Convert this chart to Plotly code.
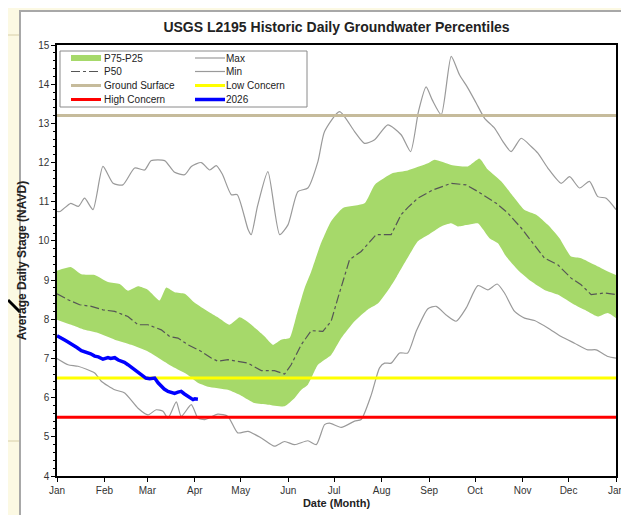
import plotly.graph_objects as go

# ---------------- data (day of year, stage) ----------------
month_ticks = [0, 31, 59, 90, 120, 151, 181, 212, 243, 273, 304, 334, 365]
month_labels = ["Jan", "Feb", "Mar", "Apr", "May", "Jun", "Jul", "Aug", "Sep", "Oct", "Nov", "Dec", "Jan"]

max_days = [0, 2, 9, 14, 18, 23.5, 30, 36.6, 43, 50.7, 57.2, 61.6, 70.3, 76.8, 83.4, 87.7, 94.2, 99.7, 104,
            108, 113.8, 117.7, 124.7, 126.8, 131, 137.7, 145.4, 150.8, 157.3, 163.8, 170.4, 174.7, 184.5,
            194.3, 200.8, 207.4, 216, 224.7, 230.9, 236, 241, 245, 250.9, 257.4, 262.8, 268.3, 273.7, 279.2,
            285.7, 291.1, 296.5, 303.1, 309.6, 314, 320.5, 329.2, 334.7, 341.2, 347.7, 353.1, 358.6, 365]
max_vals = [10.75, 10.75, 10.96, 10.88, 11.09, 10.8, 11.9, 11.47, 11.43, 11.86, 11.81, 12.05, 12.05, 11.75,
            11.69, 11.9, 12.0, 11.81, 11.92, 11.7, 11.18, 11.18, 10.3, 10.16, 10.9, 11.77, 10.16, 10.41,
            11.26, 11.35, 12.03, 12.79, 13.3, 12.79, 12.49, 12.58, 12.96, 12.71, 12.28, 13.3, 13.93, 13.6,
            13.22, 14.71, 14.24, 13.9, 13.52, 13.13, 12.88, 12.54, 12.28, 12.62, 12.41, 12.24, 11.86, 11.47,
            11.64, 11.35, 11.52, 11.13, 11.09, 10.8]

min_days = [0, 7.2, 13.7, 24.6, 28.9, 37.7, 44.2, 52.9, 59.4, 64.8, 69.2, 72.5, 77.9, 81.1, 87.7, 92, 96.4,
            105, 111.6, 118, 124.7, 133.4, 142, 148.6, 155.2, 163.8, 169.3, 174.7, 178, 185.6, 194.3, 198.6,
            205.2, 210.6, 213.9, 218.2, 223.7, 229, 234.5, 242.2, 247.6, 254.1, 260.6, 267.2, 274.8, 281.3,
            287.4, 292.2, 298.8, 305.3, 311.8, 320.5, 329.2, 337.9, 346.6, 352, 359.7, 365]
min_vals = [7.0, 6.84, 6.8, 6.63, 6.42, 6.2, 6.12, 5.73, 5.56, 5.69, 5.65, 5.48, 5.89, 5.52, 5.82, 5.48, 5.44,
            5.58, 5.52, 5.1, 5.14, 4.97, 4.76, 4.88, 4.8, 4.9, 4.8, 5.31, 5.35, 5.24, 5.4, 5.44,
            6.07, 6.76, 6.88, 6.88, 7.14, 7.14, 7.69, 8.27, 8.33, 8.11, 7.95, 8.29, 8.86, 8.75,
            8.9, 8.67, 8.2, 8.03, 7.97, 7.78, 7.56, 7.39, 7.22, 7.22, 7.05, 7.01]

p50_days = [0, 7.2, 14.8, 22.4, 30, 37.7, 46.3, 52.9, 59.4, 68.1, 73.6, 79, 85.5, 94.2, 100.7, 105, 111.6, 118,
            124.7, 133.4, 142, 148.6, 152.9, 159.5, 166, 173.6, 179, 183.4, 186.7, 191, 198.6, 208.4, 218.2,
            224.7, 229, 235.6, 245.4, 257.4, 267.2, 274.8, 286.8, 294.4, 303.1, 311.8, 318.3, 327, 335.7,
            342.2, 348.8, 357.5, 365]
p50_vals = [8.65, 8.5, 8.37, 8.33, 8.24, 8.2, 8.07, 7.86, 7.86, 7.73, 7.56, 7.52, 7.35, 7.18, 7.01, 6.93, 6.97,
            6.92, 6.88, 6.69, 6.69, 6.6, 6.84, 7.35, 7.71, 7.69, 7.95, 8.54, 8.95, 9.52, 9.73, 10.16, 10.16,
            10.67, 10.85, 11.09, 11.3, 11.47, 11.43, 11.26, 10.96, 10.71, 10.33, 9.9, 9.56, 9.39, 9.05,
            8.88, 8.63, 8.67, 8.63]

p75_days = [0, 9.3, 15.9, 24.6, 33.3, 40.9, 46.3, 52.9, 59.4, 67, 71.3, 76.8, 83.4, 89.9, 98.6, 105, 112.7,
            119.3, 124.7, 135.6, 141, 146.4, 151.9, 156.2, 161.7, 166, 172, 179, 186.7, 200.8, 207.4, 219.3,
            229, 242.2, 246.5, 257.4, 268.3, 275.9, 281.3, 290, 298.8, 305.3, 312.9, 320.5, 328.1, 335.7,
            342.2, 351, 359.7, 365]
p75_vals = [9.24, 9.33, 9.15, 9.13, 8.95, 8.9, 8.73, 8.84, 8.75, 8.48, 8.81, 8.69, 8.65, 8.42, 8.2, 8.05, 7.86,
            8.05, 7.93, 7.56, 7.35, 7.48, 7.52, 8.07, 8.8, 9.22, 9.9, 10.5, 10.84, 10.96, 11.43, 11.73,
            11.8, 11.98, 12.07, 11.94, 11.9, 12.1, 11.82, 11.52, 11.09, 10.79, 10.67, 10.41, 10.07, 9.6,
            9.56, 9.39, 9.22, 9.13]

p25_days = [0, 9.3, 18, 26.8, 37.7, 48.5, 59.4, 68.1, 76.8, 85.5, 92, 98.6, 111.6, 120.3, 129, 137.7, 148.6,
            155.2, 159.5, 163.8, 170.4, 179, 185.6, 194.3, 203, 209.5, 217.2, 222, 230.2, 235.6, 242.2,
            250.9, 257.4, 261.7, 268.3, 274.8, 282.4, 287.9, 293.3, 300.9, 309.6, 318.3, 327, 337.9, 346.6,
            353.1, 359.7, 365]
p25_vals = [7.99, 7.86, 7.73, 7.65, 7.48, 7.35, 7.18, 6.97, 6.76, 6.58, 6.38, 6.28, 6.2, 6.05, 5.86, 5.82, 5.78,
            5.99, 6.2, 6.33, 6.84, 7.09, 7.52, 7.95, 8.25, 8.4, 8.8, 9.1, 9.65, 9.99, 10.15,
            10.37, 10.45, 10.37, 10.41, 10.45, 10.07, 9.94, 9.6, 9.26, 8.97, 8.75, 8.63, 8.37, 8.2,
            8.07, 8.16, 8.03]

y2026_days = [0, 3, 5, 7.2, 9, 11.5, 13, 15.9, 18, 20.2, 22, 24.6, 27, 30, 33.3, 35, 37.7, 40, 42, 44, 46.3,
              49, 51.8, 54, 56.1, 58, 60.5, 63.8, 66, 68.1, 70, 72.5, 74.5, 76.8, 79, 81.1, 83, 85.5, 88.8,
              90, 92]
y2026_vals = [7.58, 7.5, 7.47, 7.42, 7.38, 7.31, 7.28, 7.2, 7.18, 7.14, 7.12, 7.06, 7.04, 6.98, 7.02, 7.0,
              7.02, 6.96, 6.93, 6.9, 6.84, 6.76, 6.67, 6.6, 6.54, 6.5, 6.48, 6.5, 6.38, 6.29, 6.22, 6.16,
              6.14, 6.11, 6.14, 6.16, 6.1, 6.03, 5.95, 5.97, 5.96]

ground_surface = 13.2
low_concern = 6.5
high_concern = 5.5
year_span = [0, 365]

# legend entries laid out in two columns of four
legend_col1 = ["P75-P25", "P50", "Ground Surface", "High Concern"]
legend_col2 = ["Max", "Min", "Low Concern", "2026"]

# ---------------- styles ----------------
FONT = "Liberation Sans, Arial, sans-serif"
STYLE = {
    "P75-P25": dict(color="#a6d96a", width=6, dash="solid"),
    "P50": dict(color="#555555", width=1.2, dash="dashdot"),
    "Max": dict(color="#9a9a9a", width=1.2, dash="solid"),
    "Min": dict(color="#9a9a9a", width=1.2, dash="solid"),
    "Ground Surface": dict(color="#c6bb9b", width=3, dash="solid"),
    "Low Concern": dict(color="#ffff00", width=3, dash="solid"),
    "High Concern": dict(color="#ff0000", width=3, dash="solid"),
    "2026": dict(color="#0000ff", width=3.5, dash="solid"),
}

fig = go.Figure()

# band
fig.add_trace(go.Scatter(x=p25_days, y=p25_vals, mode="lines",
                         line=dict(width=0, color="#a6d96a", shape="spline", smoothing=0.5),
                         showlegend=False, hoverinfo="skip"))
fig.add_trace(go.Scatter(x=p75_days, y=p75_vals, mode="lines", fill="tonexty", fillcolor="#a6d96a",
                         line=dict(width=0, color="#a6d96a", shape="spline", smoothing=0.5),
                         name="P75-P25", showlegend=False))
fig.add_trace(go.Scatter(x=p50_days, y=p50_vals, mode="lines", name="P50", showlegend=False,
                         line=dict(color=STYLE["P50"]["color"], width=1.2, dash="dashdot")))
fig.add_trace(go.Scatter(x=max_days, y=max_vals, mode="lines", name="Max", showlegend=False,
                         line=dict(color=STYLE["Max"]["color"], width=1.2, shape="spline", smoothing=0.6)))
fig.add_trace(go.Scatter(x=min_days, y=min_vals, mode="lines", name="Min", showlegend=False,
                         line=dict(color=STYLE["Min"]["color"], width=1.2, shape="spline", smoothing=0.6)))
fig.add_trace(go.Scatter(x=year_span, y=[ground_surface] * 2, mode="lines", name="Ground Surface",
                         showlegend=False, line=dict(color=STYLE["Ground Surface"]["color"], width=3)))
fig.add_trace(go.Scatter(x=year_span, y=[low_concern] * 2, mode="lines", name="Low Concern",
                         showlegend=False, line=dict(color=STYLE["Low Concern"]["color"], width=3)))
fig.add_trace(go.Scatter(x=year_span, y=[high_concern] * 2, mode="lines", name="High Concern",
                         showlegend=False, line=dict(color=STYLE["High Concern"]["color"], width=3)))
fig.add_trace(go.Scatter(x=y2026_days, y=y2026_vals, mode="lines", name="2026", showlegend=False,
                         line=dict(color=STYLE["2026"]["color"], width=3.5)))

L, R, T, B = 49, 21, 37, 47
W, H = 629, 515
pw, ph = W - L - R, H - T - B


def px(xp):
    return (xp - L) / pw


def py(yp):
    return (H - B - yp) / ph


shapes = [
    # white panel
    dict(type="rect", xref="paper", yref="paper", x0=px(12), x1=px(622), y0=py(530), y1=py(3),
         fillcolor="white", line=dict(color="#a8a8a8", width=2), layer="below"),
    # background decorations
    dict(type="line", xref="paper", yref="paper", x0=px(0), x1=px(11), y0=py(27), y1=py(27),
         line=dict(color="#d8cfa8", width=1), layer="below"),
    dict(type="line", xref="paper", yref="paper", x0=px(0), x1=px(11), y0=py(433), y1=py(433),
         line=dict(color="#d8cfa8", width=1), layer="below"),
    dict(type="line", xref="paper", yref="paper", x0=px(0), x1=px(12), y0=py(292), y1=py(304),
         line=dict(color="black", width=3), layer="below"),
    # legend box
    dict(type="rect", xref="paper", yref="paper", x0=px(52), x1=px(299), y0=py(99), y1=py(43),
         fillcolor="white", line=dict(color="#8a8a8a", width=1), layer="above"),
]

annotations = []
row_y = [50, 63.5, 77.5, 91.5]
for names, sx0, sx1, tx in [(legend_col1, 63, 93, 94), (legend_col2, 187, 217, 216)]:
    for i, name in enumerate(names):
        st = STYLE[name]
        shapes.append(dict(type="line", xref="paper", yref="paper", x0=px(sx0), x1=px(sx1),
                           y0=py(row_y[i]), y1=py(row_y[i]), layer="above",
                           line=dict(color=st["color"], width=st["width"], dash=st["dash"])))
        annotations.append(dict(text=name, xref="paper", yref="paper", x=px(tx), y=py(row_y[i]),
                                xanchor="left", yanchor="middle", showarrow=False,
                                font=dict(family=FONT, size=10, color="#222")))

fig.update_layout(
    width=W, height=H,
    margin=dict(l=L, r=R, t=T, b=B),
    paper_bgcolor="#fcf9e3",
    plot_bgcolor="white",
    showlegend=False,
    font=dict(family=FONT, size=10, color="#333"),
    title=dict(text="<b>USGS L2195 Historic Daily Groundwater Percentiles</b>", x=0.5, xref="paper",
               xanchor="center", y=1 - 19 / H, yanchor="middle",
               font=dict(family=FONT, size=14, color="#222")),
    shapes=shapes,
    annotations=annotations,
    xaxis=dict(range=[0, 365], tickmode="array", tickvals=month_ticks, ticktext=month_labels,
               ticks="outside", ticklen=4, tickcolor="black", showgrid=False, zeroline=False,
               showline=True, linecolor="black", linewidth=1.5, mirror=True,
               tickfont=dict(family=FONT, size=10, color="#333"),
               title=dict(text="<b>Date (Month)</b>", standoff=5, font=dict(family=FONT, size=11, color="#222"))),
    yaxis=dict(range=[4, 15], dtick=1, ticks="outside", ticklen=4, tickcolor="black", showgrid=False,
               zeroline=False, showline=True, linecolor="black", linewidth=1.5, mirror=True,
               minor=dict(ticks="outside", ticklen=2, dtick=0.2, tickcolor="black", showgrid=False),
               tickfont=dict(family=FONT, size=10, color="#333"),
               title=dict(text="<b>Average Daily Stage (NAVD)</b>", standoff=9,
                          font=dict(family=FONT, size=12, color="#222"))),
)

fig.write_html("out.html")
